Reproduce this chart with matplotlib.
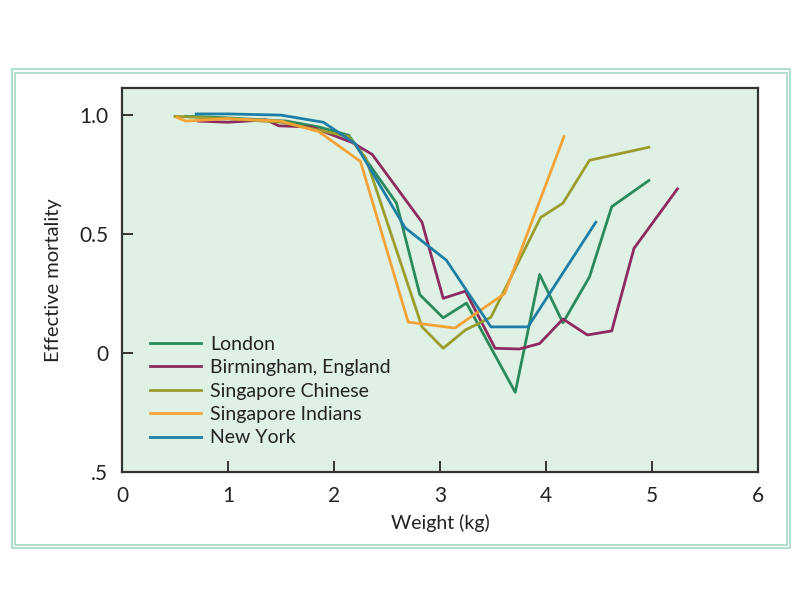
import matplotlib
matplotlib.use('Agg')
import matplotlib.pyplot as plt
from matplotlib.patches import Rectangle
from matplotlib.ticker import FixedLocator

plt.rcParams['font.family'] = ['Lato', 'DejaVu Sans']

# data
london_x = [0.6, 0.92, 1.55, 1.86, 2.14, 2.59, 2.81, 3.03, 3.25, 3.71, 3.94, 4.16, 4.41, 4.62, 4.97]
london_y = [0.995, 0.99, 0.975, 0.95, 0.915, 0.63, 0.245, 0.148, 0.21, -0.165, 0.33, 0.127, 0.32, 0.615, 0.725]

birm_x = [0.72, 1.0, 1.36, 1.48, 1.79, 2.17, 2.36, 2.83, 3.03, 3.24, 3.52, 3.75, 3.94, 4.16, 4.39, 4.62, 4.83, 5.24]
birm_y = [0.975, 0.97, 0.98, 0.955, 0.95, 0.885, 0.835, 0.55, 0.23, 0.26, 0.02, 0.017, 0.04, 0.143, 0.076, 0.093, 0.44, 0.69]

chinese_x = [0.5, 1.0, 1.5, 2.14, 2.3, 2.83, 3.03, 3.24, 3.48, 3.95, 4.16, 4.41, 4.97]
chinese_y = [0.995, 0.985, 0.97, 0.91, 0.82, 0.11, 0.02, 0.097, 0.15, 0.57, 0.63, 0.81, 0.865]

indians_x = [0.52, 0.6, 1.0, 1.5, 1.86, 2.25, 2.7, 3.14, 3.61, 4.17]
indians_y = [0.99, 0.975, 0.985, 0.975, 0.93, 0.805, 0.13, 0.105, 0.25, 0.91]

ny_x = [0.7, 1.0, 1.5, 1.9, 2.2, 2.67, 3.06, 3.48, 3.83, 4.47]
ny_y = [1.005, 1.005, 1.0, 0.97, 0.88, 0.527, 0.39, 0.11, 0.11, 0.55]

series = [
    ('London', london_x, london_y, '#2a8a5c'),
    ('Birmingham, England', birm_x, birm_y, '#8e2a5e'),
    ('Singapore Chinese', chinese_x, chinese_y, '#9a9c2c'),
    ('Singapore Indians', indians_x, indians_y, '#f5a236'),
    ('New York', ny_x, ny_y, '#1f7ea6'),
]

y_ticks = [1.0, 0.5, 0.0, -0.5]
y_labels = ['1.0', '0.5', '0', '.5']
x_ticks = [0, 1, 2, 3, 4, 5, 6]

fig = plt.figure(figsize=(8.04, 6.04), dpi=100)
ax = fig.add_axes([122 / 804, 1 - 472 / 604, 636 / 804, 384 / 604])
ax.set_facecolor('#dff1e5')

for name, xs, ys, c in series:
    ax.plot(xs, ys, color=c, lw=2.0, label=name)

ax.set_xlim(0, 6)
ax.set_ylim(-0.5, 1.114)
ax.xaxis.set_major_locator(FixedLocator(x_ticks))
ax.set_yticks(y_ticks)
ax.set_yticklabels(y_labels)
ax.tick_params(direction='in', length=8, width=1.4, colors='#333333', labelcolor='#222222', labelsize=15, pad=10)
for s in ax.spines.values():
    s.set_color('#333333')
    s.set_linewidth(1.6)

ax.set_xlabel('Weight (kg)', fontsize=14, color='#222222', labelpad=6)
ax.set_ylabel('Effective mortality', fontsize=14.5, color='#222222', labelpad=12)

ax.legend(loc='upper left', bbox_to_anchor=(0.044, 0.355), frameon=False, fontsize=14,
          handlelength=2.6, handletextpad=0.5, labelspacing=0.33, borderpad=0, borderaxespad=0,
          labelcolor='#222222')

# double green frame
for x0, y0, x1, y1 in [(12, 69, 790, 548), (15, 73, 787, 545)]:
    fig.patches.append(Rectangle((x0 / 804, 1 - y1 / 604), (x1 - x0) / 804, (y1 - y0) / 604,
                                 transform=fig.transFigure, fill=False, ec='#a6dcc3', lw=1.2))

fig.savefig('out.png', dpi=100)
